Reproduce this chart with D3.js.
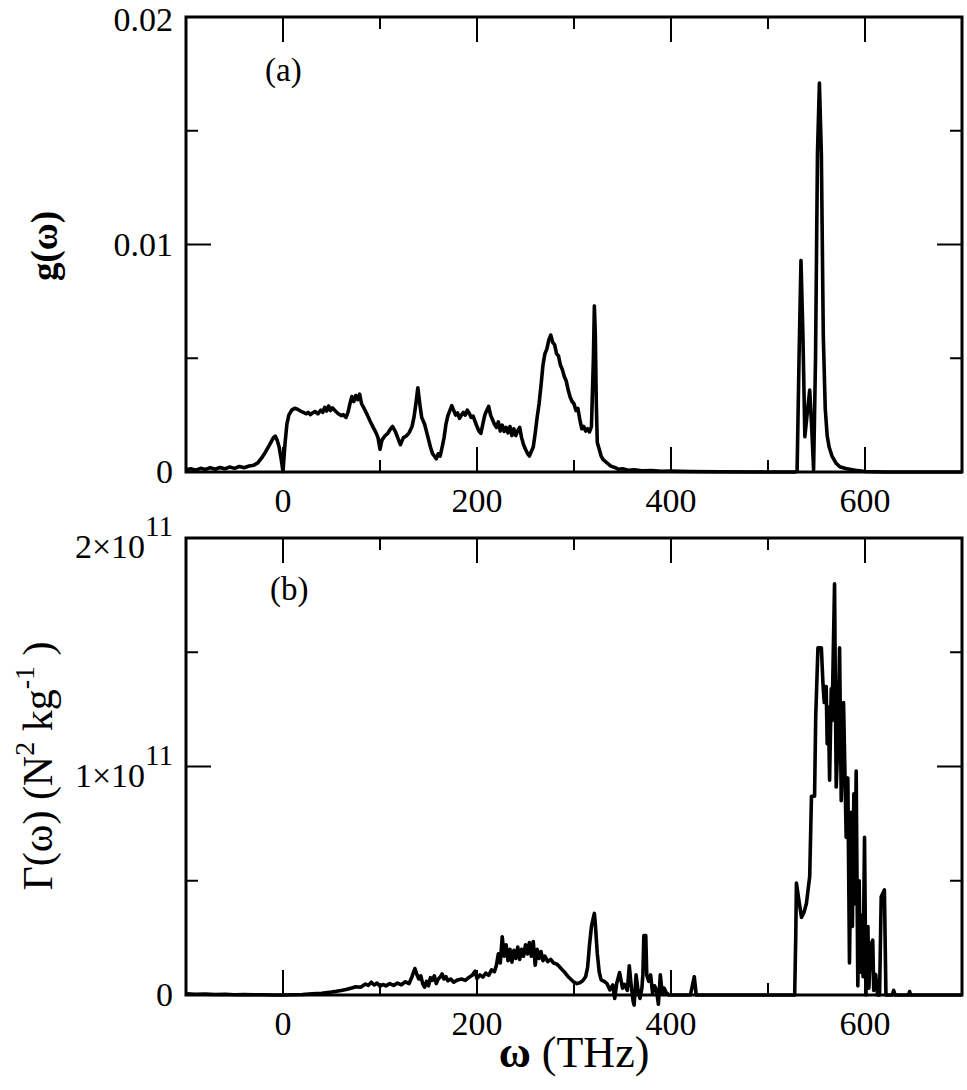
<!DOCTYPE html>
<html>
<head>
<meta charset="utf-8">
<script src="https://cdn.jsdelivr.net/npm/d3@7"></script>
<style>
  body { margin: 0; background: #fff; }
  text { font-family: "Liberation Serif", "Times New Roman", serif; fill: #000; }
</style>
</head>
<body>
<div id="chart"></div>
<script>
// ---------------------------//
//       DATA                 //
// ---------------------------//

// x ticks (THz)
var xMajor = [0, 200, 400, 600]
var xMinor = [-100, 100, 300, 500, 700]

// panel (a) ticks
var yMajorA = [0, 0.01, 0.02]
var yMinorA = [0.005, 0.015]
var yLabelsA = ["0", "0.01", "0.02"]

// panel (b) ticks
var yMajorB = [0, 1e11, 2e11]
var yMinorB = [0.5e11, 1.5e11]
var yLabelsB = [["0", ""], ["1\u00d710", "11"], ["2\u00d710", "11"]]

// g(omega) : [omega, g]
var gData = [
  [-100, 0.00010], [-95, 0.00014], [-90, 0.00008], [-85, 0.00016], [-80, 0.00011], [-75, 0.00019],
  [-70, 0.00012], [-65, 0.00020], [-60, 0.00014], [-55, 0.00022], [-50, 0.00016], [-45, 0.00024],
  [-40, 0.00019], [-35, 0.00026], [-30, 0.00030], [-26, 0.00040], [-22, 0.00062], [-18, 0.00088],
  [-14, 0.00118], [-10, 0.00150], [-8, 0.00158], [-6, 0.00140], [-4, 0.00110], [-2, 0.00060],
  [0, 0.00002], [2, 0.00120], [4, 0.00210], [6, 0.00250], [9, 0.00272], [12, 0.00280], [15, 0.00276],
  [18, 0.00268], [21, 0.00262], [24, 0.00256], [26, 0.00262], [28, 0.00252], [30, 0.00258],
  [33, 0.00266], [36, 0.00256], [39, 0.00272], [41, 0.00262], [43, 0.00284], [45, 0.00268],
  [47, 0.00290], [49, 0.00270], [51, 0.00282], [54, 0.00268], [57, 0.00256], [60, 0.00248],
  [62, 0.00252], [65, 0.00240], [67, 0.00262], [69, 0.00300], [71, 0.00332], [73, 0.00310],
  [75, 0.00336], [77, 0.00318], [79, 0.00342], [81, 0.00300], [84, 0.00276], [87, 0.00250],
  [90, 0.00222], [93, 0.00196], [96, 0.00172], [98, 0.00150], [100, 0.00100], [102, 0.00140],
  [105, 0.00158], [108, 0.00170], [111, 0.00190], [113, 0.00200], [116, 0.00176], [119, 0.00142],
  [121, 0.00120], [124, 0.00150], [127, 0.00158], [130, 0.00172], [133, 0.00200], [135, 0.00240],
  [137, 0.00300], [139, 0.00370], [141, 0.00300], [143, 0.00240], [146, 0.00210], [149, 0.00160],
  [152, 0.00110], [154, 0.00082], [156, 0.00070], [158, 0.00058], [160, 0.00080], [162, 0.00070],
  [164, 0.00108], [166, 0.00150], [168, 0.00210], [170, 0.00248], [172, 0.00270], [174, 0.00292],
  [176, 0.00270], [178, 0.00250], [180, 0.00260], [182, 0.00236], [184, 0.00250], [186, 0.00262],
  [188, 0.00250], [190, 0.00272], [192, 0.00258], [194, 0.00240], [196, 0.00246], [198, 0.00222],
  [200, 0.00200], [202, 0.00180], [204, 0.00170], [206, 0.00210], [208, 0.00250], [210, 0.00270],
  [212, 0.00288], [214, 0.00250], [216, 0.00230], [218, 0.00210], [220, 0.00196], [222, 0.00220],
  [224, 0.00180], [226, 0.00206], [228, 0.00178], [230, 0.00196], [232, 0.00172], [234, 0.00200],
  [236, 0.00160], [238, 0.00190], [240, 0.00160], [242, 0.00182], [244, 0.00196], [246, 0.00150],
  [248, 0.00120], [250, 0.00100], [252, 0.00082], [254, 0.00070], [256, 0.00090], [258, 0.00110],
  [260, 0.00170], [262, 0.00240], [264, 0.00300], [266, 0.00380], [268, 0.00470], [270, 0.00520],
  [272, 0.00540], [274, 0.00580], [276, 0.00602], [278, 0.00570], [280, 0.00560], [282, 0.00520],
  [284, 0.00510], [286, 0.00470], [288, 0.00450], [290, 0.00420], [292, 0.00400], [294, 0.00360],
  [296, 0.00330], [298, 0.00310], [300, 0.00300], [302, 0.00270], [304, 0.00280], [306, 0.00230],
  [308, 0.00190], [310, 0.00200], [312, 0.00180], [314, 0.00190], [316, 0.00176], [318, 0.00200],
  [320, 0.00500], [321, 0.00730], [322, 0.00600], [323, 0.00300], [324, 0.00130], [326, 0.00100],
  [328, 0.00070], [330, 0.00055], [334, 0.00040], [338, 0.00026], [342, 0.00020], [346, 0.00012],
  [350, 0.00014], [356, 0.00008], [362, 0.00010], [370, 0.00005], [380, 0.00006], [390, 0.00003],
  [400, 0.00004], [420, 0.00002], [450, 0.00001], [500, 0], [528, 0], [530, 0.00005], [532, 0.00500],
  [534, 0.00930], [536, 0.00600], [538, 0.00155], [540, 0.00240], [543, 0.00360], [545, 0.00200],
  [547, 0.00010], [549, 0.00500], [551, 0.01400], [553, 0.01710], [555, 0.01400], [557, 0.00600],
  [559, 0.00280], [561, 0.00160], [563, 0.00110], [566, 0.00070], [570, 0.00040], [574, 0.00023],
  [580, 0.00015], [590, 0.00008], [600, 0.00002], [620, 0], [700, 0]
]

// Gamma(omega) : [omega, Gamma]
var gammaData = [
  [-100, 0.05e10], [-90, 0.03e10], [-80, 0.04e10], [-70, 0.02e10], [-60, 0.03e10], [-50, 0.01e10],
  [-40, 0.02e10], [-30, 0.01e10], [-20, 0.01e10], [-10, 0], [0, 0], [10, 0.01e10], [20, 0.02e10],
  [30, 0.05e10], [40, 0.08e10], [50, 0.13e10], [55, 0.16e10], [60, 0.2e10], [65, 0.24e10],
  [70, 0.3e10], [75, 0.36e10], [80, 0.34e10], [85, 0.48e10], [88, 0.42e10], [91, 0.56e10],
  [94, 0.44e10], [97, 0.52e10], [100, 0.38e10], [103, 0.46e10], [106, 0.40e10], [110, 0.50e10],
  [114, 0.42e10], [118, 0.52e10], [122, 0.44e10], [126, 0.58e10], [130, 0.50e10], [133, 0.80e10],
  [136, 1.16e10], [138, 0.90e10], [140, 0.70e10], [142, 0.84e10], [144, 0.50e10], [146, 0.34e10],
  [148, 0.60e10], [150, 0.40e10], [152, 0.76e10], [154, 0.64e10], [156, 0.84e10], [158, 0.50e10],
  [160, 0.70e10], [162, 0.78e10], [164, 0.92e10], [166, 0.70e10], [168, 0.80e10], [170, 0.62e10],
  [173, 0.70e10], [176, 0.56e10], [180, 0.66e10], [184, 0.70e10], [188, 0.64e10], [192, 0.78e10],
  [195, 0.86e10], [198, 1.04e10], [200, 0.72e10], [203, 0.88e10], [206, 0.78e10], [209, 0.96e10],
  [212, 0.86e10], [215, 1.10e10], [218, 1.02e10], [220, 1.30e10], [222, 1.80e10], [224, 1.40e10],
  [226, 2.55e10], [228, 1.70e10], [230, 2.20e10], [232, 1.50e10], [234, 2.00e10], [236, 1.44e10],
  [238, 1.96e10], [240, 1.60e10], [242, 2.10e10], [244, 1.56e10], [246, 2.00e10], [248, 1.70e10],
  [250, 2.20e10], [252, 1.80e10], [254, 2.30e10], [256, 1.70e10], [258, 2.34e10], [260, 1.30e10],
  [262, 2.00e10], [264, 1.60e10], [266, 1.90e10], [268, 1.50e10], [270, 1.70e10], [273, 1.46e10],
  [276, 1.56e10], [279, 1.40e10], [282, 1.36e10], [285, 1.24e10], [288, 1.10e10], [291, 0.96e10],
  [294, 0.80e10], [297, 0.68e10], [300, 0.56e10], [303, 0.50e10], [306, 0.54e10], [309, 0.62e10],
  [312, 0.80e10], [314, 1.20e10], [316, 2.20e10], [318, 3.00e10], [320, 3.40e10], [321, 3.57e10],
  [322, 3.10e10], [324, 1.82e10], [326, 1.00e10], [328, 0.66e10], [331, 0.60e10], [334, 0.50e10],
  [337, 0.22e10], [340, 0.44e10], [342, -0.15e10], [344, 0.50e10], [347, 0.98e10], [350, 0.30e10],
  [352, 0.47e10], [355, 0.20e10], [357, 1.28e10], [359, 0.40e10], [361, -0.29e10], [362, -0.44e10],
  [364, 0.88e10], [366, 0.20e10], [368, -0.15e10], [370, 0.30e10], [371, 0.88e10], [372, 2.60e10],
  [374, 2.60e10], [375, 0.88e10], [377, 0.60e10], [379, 0.88e10], [381, 0.07e10], [383, 0.40e10],
  [385, 0.22e10], [387, -0.40e10], [389, 0.88e10], [391, 0.07e10], [393, 0.30e10], [395, 0.10e10],
  [398, 0], [420, 0], [422, 0.4e10], [424, 0.8e10], [426, 0], [500, 0], [527.5, 0],
  [528.6, 2.55e10], [529.3, 4.90e10], [532, 4.10e10], [534.5, 3.40e10], [537, 3.60e10],
  [539.6, 4.00e10], [543, 5.20e10], [544.8, 8.70e10], [548, 8.70e10], [549.2, 12.20e10],
  [551.5, 15.20e10], [555, 15.20e10], [556.7, 13.60e10], [558, 12.8e10], [560, 13.50e10],
  [561, 11.0e10], [562.2, 12.60e10], [563.5, 9.40e10], [565.2, 13.40e10], [566, 12.0e10],
  [568.6, 18.00e10], [570.3, 9.10e10], [572, 11e10], [573.8, 15.20e10], [575.5, 8.50e10],
  [577.9, 12.80e10], [580.6, 6.90e10], [582.3, 9.50e10], [584, 1.40e10], [586, 8.0e10],
  [587, 3.0e10], [588.5, 8.8e10], [589.5, 4.0e10], [590.9, 9.80e10], [592.6, 0.40e10],
  [594, 5.0e10], [595, 1.0e10], [597, 3.5e10], [598, 0.8e10], [599.5, 6.90e10], [601, 0],
  [603, 3.0e10], [604, 0.3e10], [606, 2.2e10], [608, 2.40e10], [609, 0.2e10], [611, 0.90e10],
  [613, 0], [615, 0], [616.7, 4.30e10], [620, 4.60e10], [621.6, 0], [628, 0], [629.6, 0.20e10],
  [631, 0], [645, 0], [646, 0.15e10], [647, 0], [700, 0]
]

// ---------------------------//
//       SVG AND SCALES       //
// ---------------------------//
var width = 967,
    height = 1090

var svg = d3.select("#chart")
    .append("svg")
    .attr("width", width)
    .attr("height", height)

var x = d3.scaleLinear()
    .domain([-100, 700])
    .range([186, 962])

var yA = d3.scaleLinear()
    .domain([0, 0.02])
    .range([472, 17])

var yB = d3.scaleLinear()
    .domain([0, 2e11])
    .range([995, 538])

var majorLen = 25,
    minorLen = 12,
    tickFont = "34px"

// draw frame + inward ticks on all four sides
function drawFrame(g, y, yMajor, yMinor) {
    var x0 = x.range()[0], x1 = x.range()[1]
    var yb = y.range()[0], yt = y.range()[1]

    var ticks = []
    xMajor.forEach(function(v) { ticks.push([x(v), yb, x(v), yb - majorLen]); ticks.push([x(v), yt, x(v), yt + majorLen]) })
    xMinor.forEach(function(v) { ticks.push([x(v), yb, x(v), yb - minorLen]); ticks.push([x(v), yt, x(v), yt + minorLen]) })
    yMajor.forEach(function(v) { ticks.push([x0, y(v), x0 + majorLen, y(v)]); ticks.push([x1, y(v), x1 - majorLen, y(v)]) })
    yMinor.forEach(function(v) { ticks.push([x0, y(v), x0 + minorLen, y(v)]); ticks.push([x1, y(v), x1 - minorLen, y(v)]) })

    g.selectAll("line.tick")
        .data(ticks)
        .enter()
        .append("line")
        .attr("class", "tick")
        .attr("x1", function(d) { return d[0] })
        .attr("y1", function(d) { return d[1] })
        .attr("x2", function(d) { return d[2] })
        .attr("y2", function(d) { return d[3] })
        .attr("stroke", "#000")
        .attr("stroke-width", 2)

    g.append("rect")
        .attr("x", x0)
        .attr("y", yt)
        .attr("width", x1 - x0)
        .attr("height", yb - yt)
        .attr("fill", "none")
        .attr("stroke", "#000")
        .attr("stroke-width", 3)

    // x tick labels
    g.selectAll("text.xlab")
        .data(xMajor)
        .enter()
        .append("text")
        .attr("class", "xlab")
        .attr("x", function(d) { return x(d) })
        .attr("y", yb + 40)
        .attr("text-anchor", "middle")
        .style("font-size", tickFont)
        .text(function(d) { return d })
}

// ---------------------------//
//       PANEL (a)            //
// ---------------------------//
var gA = svg.append("g")
drawFrame(gA, yA, yMajorA, yMinorA)

// top label kept just inside the page edge
gA.selectAll("text.ylab")
    .data(yMajorA)
    .enter()
    .append("text")
    .attr("class", "ylab")
    .attr("x", 173)
    .attr("y", function(d, i) { return Math.max(yA(d) + 11, 31) })
    .attr("text-anchor", "end")
    .style("font-size", tickFont)
    .text(function(d, i) { return yLabelsA[i] })

var lineA = d3.line()
    .x(function(d) { return x(d[0]) })
    .y(function(d) { return yA(d[1]) })

gA.append("path")
    .datum(gData)
    .attr("d", lineA)
    .attr("fill", "none")
    .attr("stroke", "#000")
    .attr("stroke-width", 3.6)
    .attr("stroke-linejoin", "round")

gA.append("text")
    .attr("x", 265)
    .attr("y", 81)
    .style("font-size", "33px")
    .text("(a)")

gA.append("text")
    .attr("transform", "translate(57,246) rotate(-90)")
    .attr("text-anchor", "middle")
    .style("font-size", "37px")
    .style("font-weight", "bold")
    .text("g(\u03c9)")

// ---------------------------//
//       PANEL (b)            //
// ---------------------------//
var gB = svg.append("g")
drawFrame(gB, yB, yMajorB, yMinorB)

var labB = gB.selectAll("text.ylab")
    .data(yMajorB)
    .enter()
    .append("text")
    .attr("class", "ylab")
    .attr("x", 173)
    .attr("y", function(d, i) { return yB(d) + (i == 0 ? 11 : 20) })
    .attr("text-anchor", "end")
    .style("font-size", tickFont)

labB.append("tspan")
    .text(function(d, i) { return yLabelsB[i][0] })
labB.append("tspan")
    .attr("dy", -22)
    .style("font-size", "29px")
    .text(function(d, i) { return yLabelsB[i][1] })

var lineB = d3.line()
    .x(function(d) { return x(d[0]) })
    .y(function(d) { return yB(d[1]) })

gB.append("path")
    .datum(gammaData)
    .attr("d", lineB)
    .attr("fill", "none")
    .attr("stroke", "#000")
    .attr("stroke-width", 3.6)
    .attr("stroke-linejoin", "round")

gB.append("text")
    .attr("x", 270)
    .attr("y", 600)
    .style("font-size", "33px")
    .text("(b)")

// y label Gamma(omega)
var gl = gB.append("text")
    .attr("transform", "translate(52,766) rotate(-90)")
    .attr("text-anchor", "middle")
    .style("font-size", "42px")
gl.append("tspan").text("\u0393(\u03c9) (N")
gl.append("tspan").attr("dy", -18).style("font-size", "28px").text("2")
gl.append("tspan").attr("dy", 18).text(" kg")
gl.append("tspan").attr("dy", -18).style("font-size", "28px").text("-1")
gl.append("tspan").attr("dy", 18).text(" )")

// x label
var xl = svg.append("text")
    .attr("x", 574)
    .attr("y", 1067)
    .attr("text-anchor", "middle")
    .style("font-size", "44px")
xl.append("tspan").style("font-weight", "bold").text("\u03c9")
xl.append("tspan").text(" (THz)")
</script>
</body>
</html>
